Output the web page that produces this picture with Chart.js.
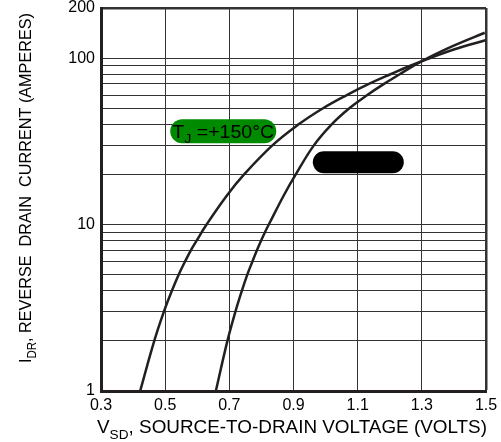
<!DOCTYPE html>
<html>
<head>
<meta charset="utf-8">
<title>Diode forward voltage</title>
<script src="https://cdn.jsdelivr.net/npm/chart.js@4.4.1/dist/chart.umd.min.js"></script>
<style>
  html, body { margin: 0; padding: 0; background: #fff; }
  #wrap { width: 501px; height: 442px; }
</style>
</head>
<body>
<div id="wrap"><canvas id="vsdChart" width="501" height="442"></canvas></div>
<script>
// body diode: source-to-drain voltage (V) vs reverse drain current (A)
const hotVolts = [0.422, 0.466, 0.496, 0.521, 0.542, 0.562, 0.58, 0.598, 0.629, 0.693, 0.746, 0.835, 0.916, 0.992, 1.066, 1.135, 1.202, 1.264, 1.326, 1.402, 1.498];
const hotAmps  = [1, 2, 3, 4, 5, 6, 7, 8, 10, 15, 20, 30, 40, 50, 60, 70, 80, 90, 100, 113, 128];

const coldVolts = [0.658, 0.694, 0.719, 0.739, 0.756, 0.772, 0.786, 0.799, 0.811, 0.823, 0.87, 0.907, 0.964, 1.019, 1.074, 1.13, 1.182, 1.231, 1.275, 1.318, 1.396, 1.496];
const coldAmps  = [1, 2, 3, 4, 5, 6, 7, 8, 9, 10, 15, 20, 30, 40, 50, 60, 70, 80, 90, 100, 118, 142];

const xTicks = [0.3, 0.5, 0.7, 0.9, 1.1, 1.3, 1.5];
const yGrid = [1, 2, 3, 4, 5, 6, 7, 8, 9, 10, 20, 30, 40, 50, 60, 70, 80, 90, 100, 200];
const yLabels = [1, 10, 100, 200];

const ink = '#231f20';
const gridInk = '#333333';
const font = '"Liberation Sans", Arial, sans-serif';

function toPoints(xs, ys) {
    return xs.map((v, i) => ({ x: v, y: ys[i] }));
}

function roundPill(ctx, cx, cy, w, h, fill) {
    const r = h / 2;
    ctx.beginPath();
    ctx.moveTo(cx - w / 2 + r, cy - r);
    ctx.lineTo(cx + w / 2 - r, cy - r);
    ctx.arc(cx + w / 2 - r, cy, r, -Math.PI / 2, Math.PI / 2);
    ctx.lineTo(cx - w / 2 + r, cy + r);
    ctx.arc(cx - w / 2 + r, cy, r, Math.PI / 2, Math.PI * 1.5);
    ctx.closePath();
    ctx.fillStyle = fill;
    ctx.fill();
}

// text runs like [text, size, baseline shift], stretched to a given width
function drawRuns(ctx, runs, x, y, width) {
    let natural = 0;
    runs.forEach(([txt, size]) => {
        ctx.font = size + 'px ' + font;
        natural += ctx.measureText(txt).width;
    });
    ctx.save();
    ctx.translate(x, y);
    ctx.scale(width / natural, 1);
    let pos = 0;
    runs.forEach(([txt, size, dy]) => {
        ctx.font = size + 'px ' + font;
        ctx.fillText(txt, pos, dy);
        pos += ctx.measureText(txt).width;
    });
    ctx.restore();
}

const decorations = {
    id: 'decorations',
    afterDraw(chart) {
        const ctx = chart.ctx;
        const xs = chart.scales.x;
        const ys = chart.scales.y;
        ctx.save();
        ctx.textBaseline = 'alphabetic';
        ctx.textAlign = 'left';

        // temperature tags
        const gx = xs.getPixelForValue(0.681), gy = ys.getPixelForValue(36.4);
        roundPill(ctx, gx, gy, 106, 24, '#008a00');
        ctx.fillStyle = '#000';
        drawRuns(ctx, [['T', 18, 0], ['J', 13, 5], [' =+150°C', 18, 0]], gx - 51, gy + 6.5, 102);

        const bx = xs.getPixelForValue(1.102), by = ys.getPixelForValue(23.7);
        roundPill(ctx, bx, by, 91, 22, '#000');

        // x axis title
        ctx.fillStyle = '#000';
        drawRuns(ctx, [['V', 18, 0], ['SD', 13, 6], [', SOURCE-TO-DRAIN VOLTAGE (VOLTS)', 18, 0]], 97, 433, 390);

        // y axis title, rotated
        ctx.translate(31, 188);
        ctx.rotate(-Math.PI / 2);
        drawRuns(ctx, [['I', 17, 0], ['DR', 12, 5], [', REVERSE  DRAIN  CURRENT (AMPERES)', 17, 0]], -175, 0, 350);
        ctx.restore();
    }
};

new Chart(document.getElementById('vsdChart'), {
    type: 'scatter',
    data: {
        datasets: [{
            label: 'TJ = +150°C',
            data: toPoints(hotVolts, hotAmps),
            showLine: true,
            borderColor: ink,
            borderWidth: 2.5,
            pointRadius: 0,
            tension: 0.4
        }, {
            label: 'TJ = +25°C',
            data: toPoints(coldVolts, coldAmps),
            showLine: true,
            borderColor: ink,
            borderWidth: 2.5,
            pointRadius: 0,
            tension: 0.4
        }]
    },
    options: {
        responsive: false,
        animation: false,
        devicePixelRatio: 1,
        layout: { padding: { left: 0, top: 8, right: 15, bottom: 0 } },
        plugins: {
            legend: { display: false },
            tooltip: { enabled: false }
        },
        scales: {
            x: {
                type: 'linear',
                min: 0.3,
                max: 1.5,
                afterBuildTicks: (scale) => { scale.ticks = xTicks.map(v => ({ value: v })); },
                afterFit: (scale) => { scale.height = 51; scale.paddingLeft = 0; scale.paddingRight = 0; },
                ticks: {
                    autoSkip: false,
                    maxRotation: 0,
                    padding: 5,
                    color: '#000',
                    font: { family: font, size: 16 },
                    callback: (v) => v.toFixed(1)
                },
                grid: {
                    drawTicks: false,
                    color: gridInk,
                    lineWidth: (c) => (c.tick && c.tick.value === 1.5 ? 2.5 : 1)
                },
                border: { display: true, color: ink, width: 3 }
            },
            y: {
                type: 'logarithmic',
                min: 1,
                max: 200,
                afterBuildTicks: (scale) => { scale.ticks = yGrid.map(v => ({ value: v })); },
                afterFit: (scale) => { scale.width = 101; scale.paddingTop = 0; scale.paddingBottom = 0; },
                ticks: {
                    autoSkip: false,
                    padding: 6,
                    color: '#000',
                    font: { family: font, size: 16 },
                    callback: (v) => (yLabels.includes(v) ? String(v) : '')
                },
                grid: {
                    drawTicks: false,
                    color: gridInk,
                    lineWidth: (c) => (c.tick && c.tick.value === 200 ? 2.5 : 1)
                },
                border: { display: true, color: ink, width: 3 }
            }
        }
    },
    plugins: [decorations]
});
</script>
</body>
</html>
